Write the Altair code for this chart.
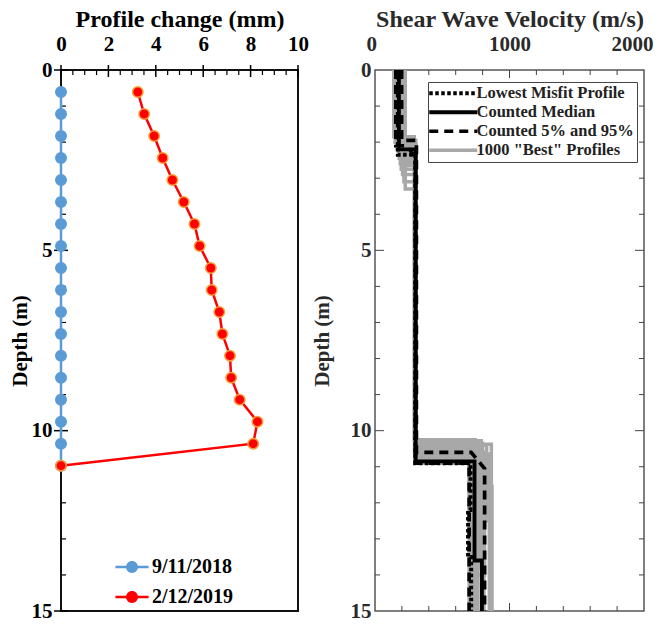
import altair as alt
import pandas as pd

FONT = "Liberation Serif"

# ---------------- Left panel: profile change ----------------
depth_m = [0.61, 1.22, 1.83, 2.44, 3.05, 3.66, 4.27, 4.88, 5.49, 6.10,
           6.71, 7.32, 7.92, 8.53, 9.14, 9.75, 10.36, 10.97]
change_2018 = [0, 0, 0, 0, 0, 0, 0, 0, 0, 0, 0, 0, 0, 0, 0, 0, 0, 0]
change_2019 = [3.24, 3.51, 3.93, 4.29, 4.70, 5.18, 5.63, 5.85, 6.32, 6.36,
               6.68, 6.81, 7.13, 7.18, 7.54, 8.29, 8.11, 0.0]
dates = ["9/11/2018", "2/12/2019"]
date_colors = ["#5B9BD5", "#FF0000"]
date_edges = ["#5B9BD5", "#F7A13C"]

left_x_ticks = [0, 2, 4, 6, 8, 10]
left_x_minor = [0.5, 1, 1.5, 2.5, 3, 3.5, 4.5, 5, 5.5, 6.5, 7, 7.5, 8.5, 9, 9.5]
depth_ticks = [0, 5, 10, 15]
depth_minor = [1, 2, 3, 4, 6, 7, 8, 9, 11, 12, 13, 14]

# ---------------- Right panel: shear wave velocity ----------------
vs_ticks = [0, 1000, 2000]
vs_minor = [200, 400, 600, 800, 1200, 1400, 1600, 1800]
vs_major_inner = [1000]

series_names = ["Lowest Misfit Profile", "Counted Median",
                "Counted 5% and 95%", '1000 "Best" Profiles']

lm_vs = [170, 170, 300, 300, 710, 710, 692, 692, 715, 715]
lm_depth = [0, 2.35, 2.35, 10.9, 10.9, 12.2, 12.2, 13.5, 13.5, 15]
med_vs = [178, 178, 302, 302, 740, 740, 795, 795]
med_depth = [0, 2.2, 2.2, 10.85, 10.85, 13.6, 13.6, 15]
p05_vs = [155, 155, 240, 300, 300, 700, 700]
p05_depth = [0, 2.1, 2.1, 2.45, 10.9, 10.9, 15]
p95_vs = [198, 198, 308, 308, 715, 815, 815]
p95_depth = [0, 1.95, 1.95, 10.6, 10.6, 11.05, 15]

# "best" profiles: layer velocities and interface depths
grey_v1 = [140, 150, 158, 165, 172, 180, 188, 195, 205, 215, 225, 168, 178, 190, 200, 160, 210, 185]
grey_d1 = [1.85, 2.0, 2.1, 2.2, 2.3, 2.45, 2.6, 2.75, 2.9, 3.1, 3.3, 1.95, 2.15, 2.35, 2.5, 2.05, 2.65, 2.25]
grey_v2 = [292, 296, 300, 304, 298, 302, 306, 294, 300, 297, 303, 303, 299, 301, 296, 305, 300, 302]
grey_d2 = [10.25, 10.3, 10.35, 10.4, 10.45, 10.5, 10.55, 10.6, 10.65, 10.7, 10.75, 10.8, 10.85, 10.9, 10.9, 10.38, 10.58, 10.28]
grey_v3 = [745, 770, 800, 830, 720, 760, 790, 815, 850, 735, 705, 775, 810, 740, 700, 865, 700, 790]
grey_d3 = [15, 13.6, 15, 12.5, 15, 13.2, 15, 14.0, 15, 12.0, 15, 13.8, 15, 15, 12.8, 15, 15, 11.55]
grey_v4 = [745, 720, 800, 790, 720, 730, 790, 760, 850, 760, 705, 740, 810, 740, 730, 865, 700, 870]

# ---------------- build tables ----------------
rows = []
for d, c18, c19, i in zip(depth_m, change_2018, change_2019, range(len(depth_m))):
    rows.append({"depth": d, "change": c18, "date": dates[0], "idx": i})
    rows.append({"depth": d, "change": c19, "date": dates[1], "idx": i})
df_left = pd.DataFrame(rows)

prof_rows = []
def add_prof(name, pid, vs, dep):
    for k, (v, d) in enumerate(zip(vs, dep)):
        prof_rows.append({"vs": v, "depth": d, "series": name, "pid": pid, "k": k})

for j in range(len(grey_v1)):
    vs = [grey_v1[j], grey_v1[j], grey_v2[j], grey_v2[j], grey_v3[j], grey_v3[j], grey_v4[j], grey_v4[j]]
    dp = [0, grey_d1[j], grey_d1[j], grey_d2[j], grey_d2[j], grey_d3[j], grey_d3[j], 15]
    add_prof(series_names[3], "g%d" % j, vs, dp)
add_prof(series_names[2], "p05", p05_vs, p05_depth)
add_prof(series_names[2], "p95", p95_vs, p95_depth)
add_prof(series_names[1], "med", med_vs, med_depth)
add_prof(series_names[0], "lm", lm_vs, lm_depth)
df_prof = pd.DataFrame(prof_rows)
df_grey = df_prof[df_prof.series == series_names[3]]
df_black = df_prof[df_prof.series != series_names[3]]

# ---------------- left chart ----------------
WL, HL = 237, 541
xs_left = alt.Scale(domain=[0, 10], nice=False, zero=False)
ys = alt.Scale(domain=[0, 15], nice=False, zero=False, reverse=True)

ax_left_x = alt.Axis(orient="top", values=left_x_ticks, title="Profile change (mm)",
                     ticks=False, domain=False, grid=False, labelFlush=False,
                     labelPadding=16, titlePadding=2,
                     labelFont=FONT, labelFontSize=21, labelFontWeight="bold", labelColor="black",
                     titleFont=FONT, titleFontSize=24, titleFontWeight="bold", titleColor="black")
ax_left_y = alt.Axis(values=depth_ticks, title="Depth (m)", ticks=False, domain=False, grid=False,
                     labelFlush=False, labelPadding=9, titlePadding=1,
                     labelFont=FONT, labelFontSize=21, labelFontWeight="bold", labelColor="black",
                     titleFont=FONT, titleFontSize=21, titleFontWeight="bold", titleColor="black")

left_legend = alt.Legend(
    title=None, orient="none", legendX=54, legendY=480,
    symbolType="M-1,-0.08H1V0.08H-1Z M0.36,0A0.36,0.36,0,1,1,-0.36,0A0.36,0.36,0,1,1,0.36,0Z",
    symbolSize=1100, symbolStrokeWidth=0, labelOffset=3, rowPadding=3, padding=0,
    labelFont=FONT, labelFontSize=20, labelFontWeight="bold", labelColor="black")

color_left = alt.Color("date:N", scale=alt.Scale(domain=dates, range=date_colors), legend=left_legend)

base_left = alt.Chart(df_left)
left_lines = base_left.mark_line(strokeWidth=2.5).encode(
    x=alt.X("change:Q", scale=xs_left, axis=ax_left_x),
    y=alt.Y("depth:Q", scale=ys, axis=ax_left_y),
    color=color_left,
    order="idx:Q",
)
left_pts = base_left.mark_circle(size=110, opacity=1, strokeWidth=1.5).encode(
    x=alt.X("change:Q", scale=xs_left, axis=ax_left_x),
    y=alt.Y("depth:Q", scale=ys, axis=ax_left_y),
    color=color_left,
    stroke=alt.Stroke("date:N", scale=alt.Scale(domain=dates, range=date_edges), legend=None),
)

def vrule(df, field, scale, y0, y1, color, w):
    return alt.Chart(df).mark_rule(color=color, strokeWidth=w).encode(
        x=alt.X(field, scale=scale), y=alt.value(y0), y2=alt.value(y1))

def hrule(df, field, scale, x0, x1, color, w):
    return alt.Chart(df).mark_rule(color=color, strokeWidth=w).encode(
        y=alt.Y(field, scale=scale), x=alt.value(x0), x2=alt.value(x1))

lt_major = vrule(pd.DataFrame({"change": left_x_ticks}), "change:Q", xs_left, -5, 7, "black", 1.5)
lt_minor = vrule(pd.DataFrame({"change": left_x_minor}), "change:Q", xs_left, 0, 5, "black", 1.2)
ll_major = hrule(pd.DataFrame({"depth": depth_ticks}), "depth:Q", ys, -7, 7, "black", 1.5)
ll_minor = hrule(pd.DataFrame({"depth": depth_minor}), "depth:Q", ys, 0, 5, "black", 1.2)

left_chart = alt.layer(lt_major, lt_minor, ll_major, ll_minor, left_lines, left_pts).properties(
    width=WL, height=HL,
    view=alt.ViewBackground(stroke="#111", strokeWidth=2),
)

# ---------------- right chart ----------------
WR, HR = 269, 541
xs_right = alt.Scale(domain=[0, 2000], nice=False, zero=False)
RC = "#2a2a2a"
ax_right_x = alt.Axis(orient="top", values=vs_ticks, title="Shear Wave Velocity (m/s)",
                      ticks=False, domain=False, grid=False, labelFlush=True, labelFlushOffset=9,
                      labelPadding=16, titlePadding=2, format="d",
                      labelFont=FONT, labelFontSize=21, labelFontWeight="bold", labelColor=RC,
                      titleFont=FONT, titleFontSize=24, titleFontWeight="bold", titleColor=RC)
ax_right_y = alt.Axis(values=depth_ticks, title="Depth (m)", ticks=False, domain=False, grid=False,
                      labelFlush=False, labelPadding=4, titlePadding=18,
                      labelFont=FONT, labelFontSize=21, labelFontWeight="bold", labelColor=RC,
                      titleFont=FONT, titleFontSize=21, titleFontWeight="bold", titleColor=RC)

right_legend = alt.Legend(
    title=None, orient="none", legendX=53, legendY=12,
    symbolType="M-4.8,0H4.8", symbolSize=100, symbolOffset=14, labelOffset=15,
    rowPadding=2, padding=3, strokeColor="#444", fillColor="white", labelLimit=0,
    labelFont=FONT, labelFontSize=16.5, labelFontWeight="bold", labelColor="#222")

enc_style = dict(
    color=alt.Color("series:N", scale=alt.Scale(domain=series_names, range=["black", "black", "black", "#a8a8a8"]), legend=right_legend),
    strokeDash=alt.StrokeDash("series:N", scale=alt.Scale(domain=series_names, range=[[3.5, 2.5], [1, 0], [9, 6], [1, 0]]), legend=right_legend),
    strokeWidth=alt.StrokeWidth("series:N", scale=alt.Scale(domain=series_names, range=[4, 3.5, 3, 1]), legend=right_legend),
)

grey_lines = alt.Chart(df_grey).mark_line().encode(
    x=alt.X("vs:Q", scale=xs_right, axis=ax_right_x),
    y=alt.Y("depth:Q", scale=ys, axis=ax_right_y),
    detail="pid:N", order="k:Q", **enc_style)
black_lines = alt.Chart(df_black).mark_line().encode(
    x=alt.X("vs:Q", scale=xs_right, axis=ax_right_x),
    y=alt.Y("depth:Q", scale=ys, axis=ax_right_y),
    detail="pid:N", order="k:Q", **enc_style)

rt_minor = vrule(pd.DataFrame({"vs": vs_minor}), "vs:Q", xs_right, 0, 5, "#444", 1)
rt_major = vrule(pd.DataFrame({"vs": vs_major_inner}), "vs:Q", xs_right, 0, 8, "#444", 1)
rb_minor = vrule(pd.DataFrame({"vs": vs_minor}), "vs:Q", xs_right, HR, HR - 5, "#444", 1)
rb_major = vrule(pd.DataFrame({"vs": vs_major_inner}), "vs:Q", xs_right, HR, HR - 8, "#444", 1)
rl_minor = hrule(pd.DataFrame({"depth": depth_minor}), "depth:Q", ys, 0, 5, "#444", 1)
rl_major = hrule(pd.DataFrame({"depth": [5, 10]}), "depth:Q", ys, 0, 9, "#444", 1)
rr_minor = hrule(pd.DataFrame({"depth": depth_minor}), "depth:Q", ys, WR, WR - 5, "#444", 1)
rr_major = hrule(pd.DataFrame({"depth": [5, 10]}), "depth:Q", ys, WR, WR - 9, "#444", 1)

right_chart = alt.layer(rt_minor, rt_major, rb_minor, rb_major, rl_minor, rl_major,
                        rr_minor, rr_major, grey_lines, black_lines).properties(
    width=WR, height=HR,
    view=alt.ViewBackground(stroke="#555", strokeWidth=1.5),
)

chart = (
    alt.hconcat(left_chart, right_chart, spacing=0)
    .resolve_scale(color="independent", stroke="independent",
                   strokeDash="independent", strokeWidth="independent",
                   x="independent", y="independent")
    .resolve_legend(color="independent", stroke="independent",
                    strokeDash="independent", strokeWidth="independent")
    .configure_view(stroke=None)
    .properties(background="white", padding={"left": 0, "top": -2, "right": 0, "bottom": 0})
)

chart.save("out.html", embed_options={"renderer": "svg", "actions": False})
